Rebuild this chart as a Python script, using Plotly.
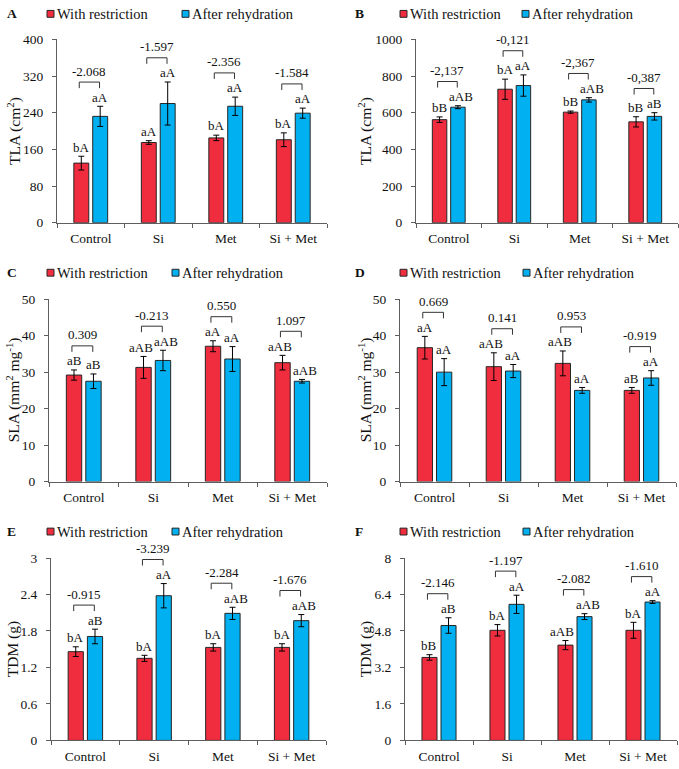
import plotly.graph_objects as go

W, H = 679, 769

categories = ["Control", "Si", "Met", "Si + Met"]
series_names = ["With restriction", "After rehydration"]

# ---- Panel A: TLA (cm2), first evaluation
tla1_restr = [130, 175, 185, 181]
tla1_restr_err = [15, 4, 6, 15]
tla1_rehyd = [232, 260, 254, 239]
tla1_rehyd_err = [22, 47, 20, 11]
tla1_restr_letters = ["bA", "aA", "bA", "bA"]
tla1_rehyd_letters = ["aA", "aA", "aA", "aA"]
tla1_diff = ["-2.068", "-1.597", "-2.356", "-1.584"]
tla1_ticks = [0, 80, 160, 240, 320, 400]

# ---- Panel B: TLA (cm2), second evaluation
tla2_restr = [562, 728, 603, 550]
tla2_restr_err = [15, 55, 6, 28]
tla2_rehyd = [630, 748, 670, 580]
tla2_rehyd_err = [8, 58, 12, 20]
tla2_restr_letters = ["bB", "bA", "bB", "bB"]
tla2_rehyd_letters = ["aAB", "aA", "aAB", "aB"]
tla2_diff = ["-2,137", "-0,121", "-2,367", "-0,387"]
tla2_ticks = [0, 200, 400, 600, 800, 1000]

# ---- Panel C: SLA (mm2 mg-1), first evaluation
sla1_restr = [29.2, 31.3, 37.1, 32.6]
sla1_restr_err = [1.4, 3.0, 1.5, 2.0]
sla1_rehyd = [27.5, 33.2, 33.6, 27.5]
sla1_rehyd_err = [2.0, 2.8, 3.4, 0.5]
sla1_restr_letters = ["aB", "aAB", "aA", "aAB"]
sla1_rehyd_letters = ["aB", "aAB", "aA", "aAB"]
sla1_diff = ["0.309", "-0.213", "0.550", "1.097"]
sla1_ticks = [0, 10, 20, 30, 40, 50]

# ---- Panel D: SLA (mm2 mg-1), second evaluation
sla2_restr = [36.7, 31.5, 32.4, 25.0]
sla2_restr_err = [3.1, 3.8, 3.4, 0.8]
sla2_rehyd = [30.0, 30.3, 25.0, 28.4]
sla2_rehyd_err = [3.7, 1.8, 0.8, 2.0]
sla2_restr_letters = ["aA", "aAB", "aAB", "aB"]
sla2_rehyd_letters = ["aA", "aA", "aA", "aA"]
sla2_diff = ["0.669", "0.141", "0.953", "-0.919"]
sla2_ticks = [0, 10, 20, 30, 40, 50]

# ---- Panel E: TDM (g), first evaluation
tdm1_restr = [1.46, 1.35, 1.53, 1.53]
tdm1_restr_err = [0.08, 0.05, 0.06, 0.06]
tdm1_rehyd = [1.71, 2.38, 2.09, 1.97]
tdm1_rehyd_err = [0.12, 0.20, 0.10, 0.10]
tdm1_restr_letters = ["bA", "bA", "bA", "bA"]
tdm1_rehyd_letters = ["aB", "aA", "aAB", "aAB"]
tdm1_diff = ["-0.915", "-3.239", "-2.284", "-1.676"]
tdm1_ticks = [0, 0.6, 1.2, 1.8, 2.4, 3]
tdm1_ticktext = ["0", "0.6", "1.2", "1.8", "2.4", "3"]

# ---- Panel F: TDM (g), second evaluation
tdm2_restr = [3.64, 4.83, 4.18, 4.83]
tdm2_restr_err = [0.12, 0.25, 0.20, 0.35]
tdm2_rehyd = [5.04, 5.97, 5.43, 6.07]
tdm2_rehyd_err = [0.34, 0.40, 0.13, 0.06]
tdm2_restr_letters = ["bB", "bA", "aAB", "bA"]
tdm2_rehyd_letters = ["aB", "aA", "aAB", "aA"]
tdm2_diff = ["-2.146", "-1.197", "-2.082", "-1.610"]
tdm2_ticks = [0, 1.6, 3.2, 4.8, 6.4, 8]
tdm2_ticktext = ["0", "1.6", "3.2", "4.8", "6.4", "8"]

panels = [
    dict(label="A", title="TLA (cm<sup>2</sup>)", red=tla1_restr, red_err=tla1_restr_err,
         blue=tla1_rehyd, blue_err=tla1_rehyd_err, rl=tla1_restr_letters, bl=tla1_rehyd_letters,
         diff=tla1_diff, ticks=tla1_ticks, ticktext=[str(t) for t in tla1_ticks]),
    dict(label="B", title="TLA (cm<sup>2</sup>)", red=tla2_restr, red_err=tla2_restr_err,
         blue=tla2_rehyd, blue_err=tla2_rehyd_err, rl=tla2_restr_letters, bl=tla2_rehyd_letters,
         diff=tla2_diff, ticks=tla2_ticks, ticktext=[str(t) for t in tla2_ticks]),
    dict(label="C", title="SLA (mm<sup>2</sup> mg<sup>-1</sup>)", red=sla1_restr, red_err=sla1_restr_err,
         blue=sla1_rehyd, blue_err=sla1_rehyd_err, rl=sla1_restr_letters, bl=sla1_rehyd_letters,
         diff=sla1_diff, ticks=sla1_ticks, ticktext=[str(t) for t in sla1_ticks]),
    dict(label="D", title="SLA (mm<sup>2</sup> mg<sup>-1</sup>)", red=sla2_restr, red_err=sla2_restr_err,
         blue=sla2_rehyd, blue_err=sla2_rehyd_err, rl=sla2_restr_letters, bl=sla2_rehyd_letters,
         diff=sla2_diff, ticks=sla2_ticks, ticktext=[str(t) for t in sla2_ticks]),
    dict(label="E", title="TDM (g)", red=tdm1_restr, red_err=tdm1_restr_err,
         blue=tdm1_rehyd, blue_err=tdm1_rehyd_err, rl=tdm1_restr_letters, bl=tdm1_rehyd_letters,
         diff=tdm1_diff, ticks=tdm1_ticks, ticktext=tdm1_ticktext),
    dict(label="F", title="TDM (g)", red=tdm2_restr, red_err=tdm2_restr_err,
         blue=tdm2_rehyd, blue_err=tdm2_rehyd_err, rl=tdm2_restr_letters, bl=tdm2_rehyd_letters,
         diff=tdm2_diff, ticks=tdm2_ticks, ticktext=tdm2_ticktext),
]

# layout geometry in pixels (plot area, legend row, titles)
geom = [
    dict(x0=57, x1=327, ytop=33, ybot=220, leg_y=7, lab_x=5, red_sq=47, blue_sq=182, title_x=14),
    dict(x0=416, x1=678, ytop=33, ybot=220, leg_y=7, lab_x=353, red_sq=400, blue_sq=522, title_x=365),
    dict(x0=49, x1=327, ytop=298, ybot=484, leg_y=271, lab_x=5, red_sq=47, blue_sq=172, title_x=13),
    dict(x0=400, x1=676, ytop=298, ybot=484, leg_y=271, lab_x=353, red_sq=400, blue_sq=523, title_x=365),
    dict(x0=51, x1=326, ytop=562, ybot=748, leg_y=535, lab_x=5, red_sq=47, blue_sq=172, title_x=13),
    dict(x0=405, x1=677, ytop=562, ybot=748, leg_y=535, lab_x=353, red_sq=400, blue_sq=523, title_x=366),
]

RED = "#F02D3E"
BLUE = "#00B0F0"
EDGE = "#262626"
TXT = "#111111"
AX = "#5e5e5e"
FONT = "Liberation Serif, Times New Roman, serif"


def px(x):
    return x / W


def py(y):
    return 1 - y / H


fig = go.Figure()
annotations = []
shapes = []

for n, (p, g) in enumerate(zip(panels, geom), start=1):
    xa = "x" if n == 1 else f"x{n}"
    ya = "y" if n == 1 else f"y{n}"
    top = p["ticks"][-1]
    ncat = len(categories)

    def xp(c, g=g, ncat=ncat):
        # category coordinate -> paper fraction
        return px(g["x0"]) + (c + 0.5) / ncat * (px(g["x1"]) - px(g["x0"]))

    def yp(v, g=g, top=top):
        # data value -> paper fraction
        return py(g["ybot"]) + v / top * (py(g["ytop"]) - py(g["ybot"]))

    fig.add_trace(go.Bar(
        x=categories, y=p["red"], name=series_names[0], xaxis=xa, yaxis=ya,
        marker=dict(color=RED, line=dict(color=EDGE, width=1)),
        error_y=dict(type="data", array=p["red_err"], color="#000", thickness=1, width=3),
        showlegend=False,
    ))
    fig.add_trace(go.Bar(
        x=categories, y=p["blue"], name=series_names[1], xaxis=xa, yaxis=ya,
        marker=dict(color=BLUE, line=dict(color=EDGE, width=1)),
        error_y=dict(type="data", array=p["blue_err"], color="#000", thickness=1, width=3),
        showlegend=False,
    ))

    xkey = "xaxis" if n == 1 else f"xaxis{n}"
    ykey = "yaxis" if n == 1 else f"yaxis{n}"
    fig.update_layout(**{
        xkey: dict(domain=[px(g["x0"]), px(g["x1"])], anchor=ya, type="category",
                   range=[-0.5, 3.5], showline=True, linecolor=AX, linewidth=1,
                   ticks="outside", tickson="boundaries", ticklen=4, tickcolor=AX,
                   tickfont=dict(family=FONT, size=13.5, color=TXT), showgrid=False,
                   ticklabelstandoff=3),
        ykey: dict(domain=[py(g["ybot"]), py(g["ytop"])], anchor=xa, range=[0, top],
                   tickvals=p["ticks"], ticktext=p["ticktext"], showline=True,
                   linecolor=AX, linewidth=1, ticks="outside", ticklen=4, tickcolor=AX,
                   tickfont=dict(family=FONT, size=13.5, color=TXT), showgrid=False,
                   zeroline=False, ticklabelstandoff=6),
    })

    off = 0.14
    for j in range(ncat):
        ly_r = p["red"][j] + p["red_err"][j] + 0.05 * top
        ly_b = p["blue"][j] + p["blue_err"][j] + 0.05 * top
        sh_r = -3 if len(p["rl"][j]) > 2 else 0
        sh_b = 3 if len(p["bl"][j]) > 2 else 0
        annotations.append(dict(x=xp(j - off), y=yp(ly_r), xref="paper", yref="paper",
                                text=p["rl"][j], showarrow=False, yanchor="middle",
                                xanchor="center", xshift=sh_r,
                                font=dict(family=FONT, size=13, color=TXT)))
        annotations.append(dict(x=xp(j + off), y=yp(ly_b), xref="paper", yref="paper",
                                text=p["bl"][j], showarrow=False, yanchor="middle",
                                xanchor="center", xshift=sh_b,
                                font=dict(family=FONT, size=13, color=TXT)))
        yb = max(ly_r, ly_b) + 0.082 * top
        leg = 0.033 * top
        xl, xr = xp(j - 0.17), xp(j + 0.13)
        shapes.append(dict(type="path", xref="paper", yref="paper",
                           path=f"M {xl},{yp(yb - leg)} L {xl},{yp(yb)} L {xr},{yp(yb)} L {xr},{yp(yb - leg)}",
                           line=dict(color="#333", width=1)))
        annotations.append(dict(x=(xl + xr) / 2, y=yp(yb + 0.06 * top), xref="paper", yref="paper",
                                text=p["diff"][j], showarrow=False, yanchor="middle",
                                xanchor="center",
                                font=dict(family=FONT, size=13, color=TXT)))

    # panel letter
    annotations.append(dict(x=px(g["lab_x"]), y=py(g["leg_y"]), xref="paper", yref="paper",
                            text=f"<b>{p['label']}</b>", showarrow=False, xanchor="left",
                            yanchor="middle", font=dict(family=FONT, size=13.5, color=TXT)))
    # y-axis title
    annotations.append(dict(x=px(g["title_x"]), y=py((g["ytop"] + g["ybot"]) / 2),
                            xref="paper", yref="paper", text=p["title"], textangle=-90,
                            showarrow=False, xanchor="center", yanchor="middle",
                            font=dict(family=FONT, size=15.5, color=TXT)))
    # manual legend
    for sq, col, name in [(g["red_sq"], RED, series_names[0]), (g["blue_sq"], BLUE, series_names[1])]:
        shapes.append(dict(type="rect", xref="paper", yref="paper",
                           x0=px(sq), x1=px(sq + 7), y0=py(g["leg_y"] + 3.5), y1=py(g["leg_y"] - 3.5),
                           fillcolor=col, line=dict(color=EDGE, width=1)))
        annotations.append(dict(x=px(sq + 8), y=py(g["leg_y"]), xref="paper", yref="paper",
                                text=name, showarrow=False, xanchor="left", yanchor="middle",
                                font=dict(family=FONT, size=14.5, color=TXT)))

fig.update_layout(
    width=W, height=H, margin=dict(l=0, r=0, t=0, b=0),
    paper_bgcolor="white", plot_bgcolor="white",
    barmode="group", bargap=0.44, bargroupgap=0.21,
    annotations=annotations, shapes=shapes,
    showlegend=False,
    font=dict(family=FONT, size=13, color=TXT),
)

fig.write_html("out.html")
